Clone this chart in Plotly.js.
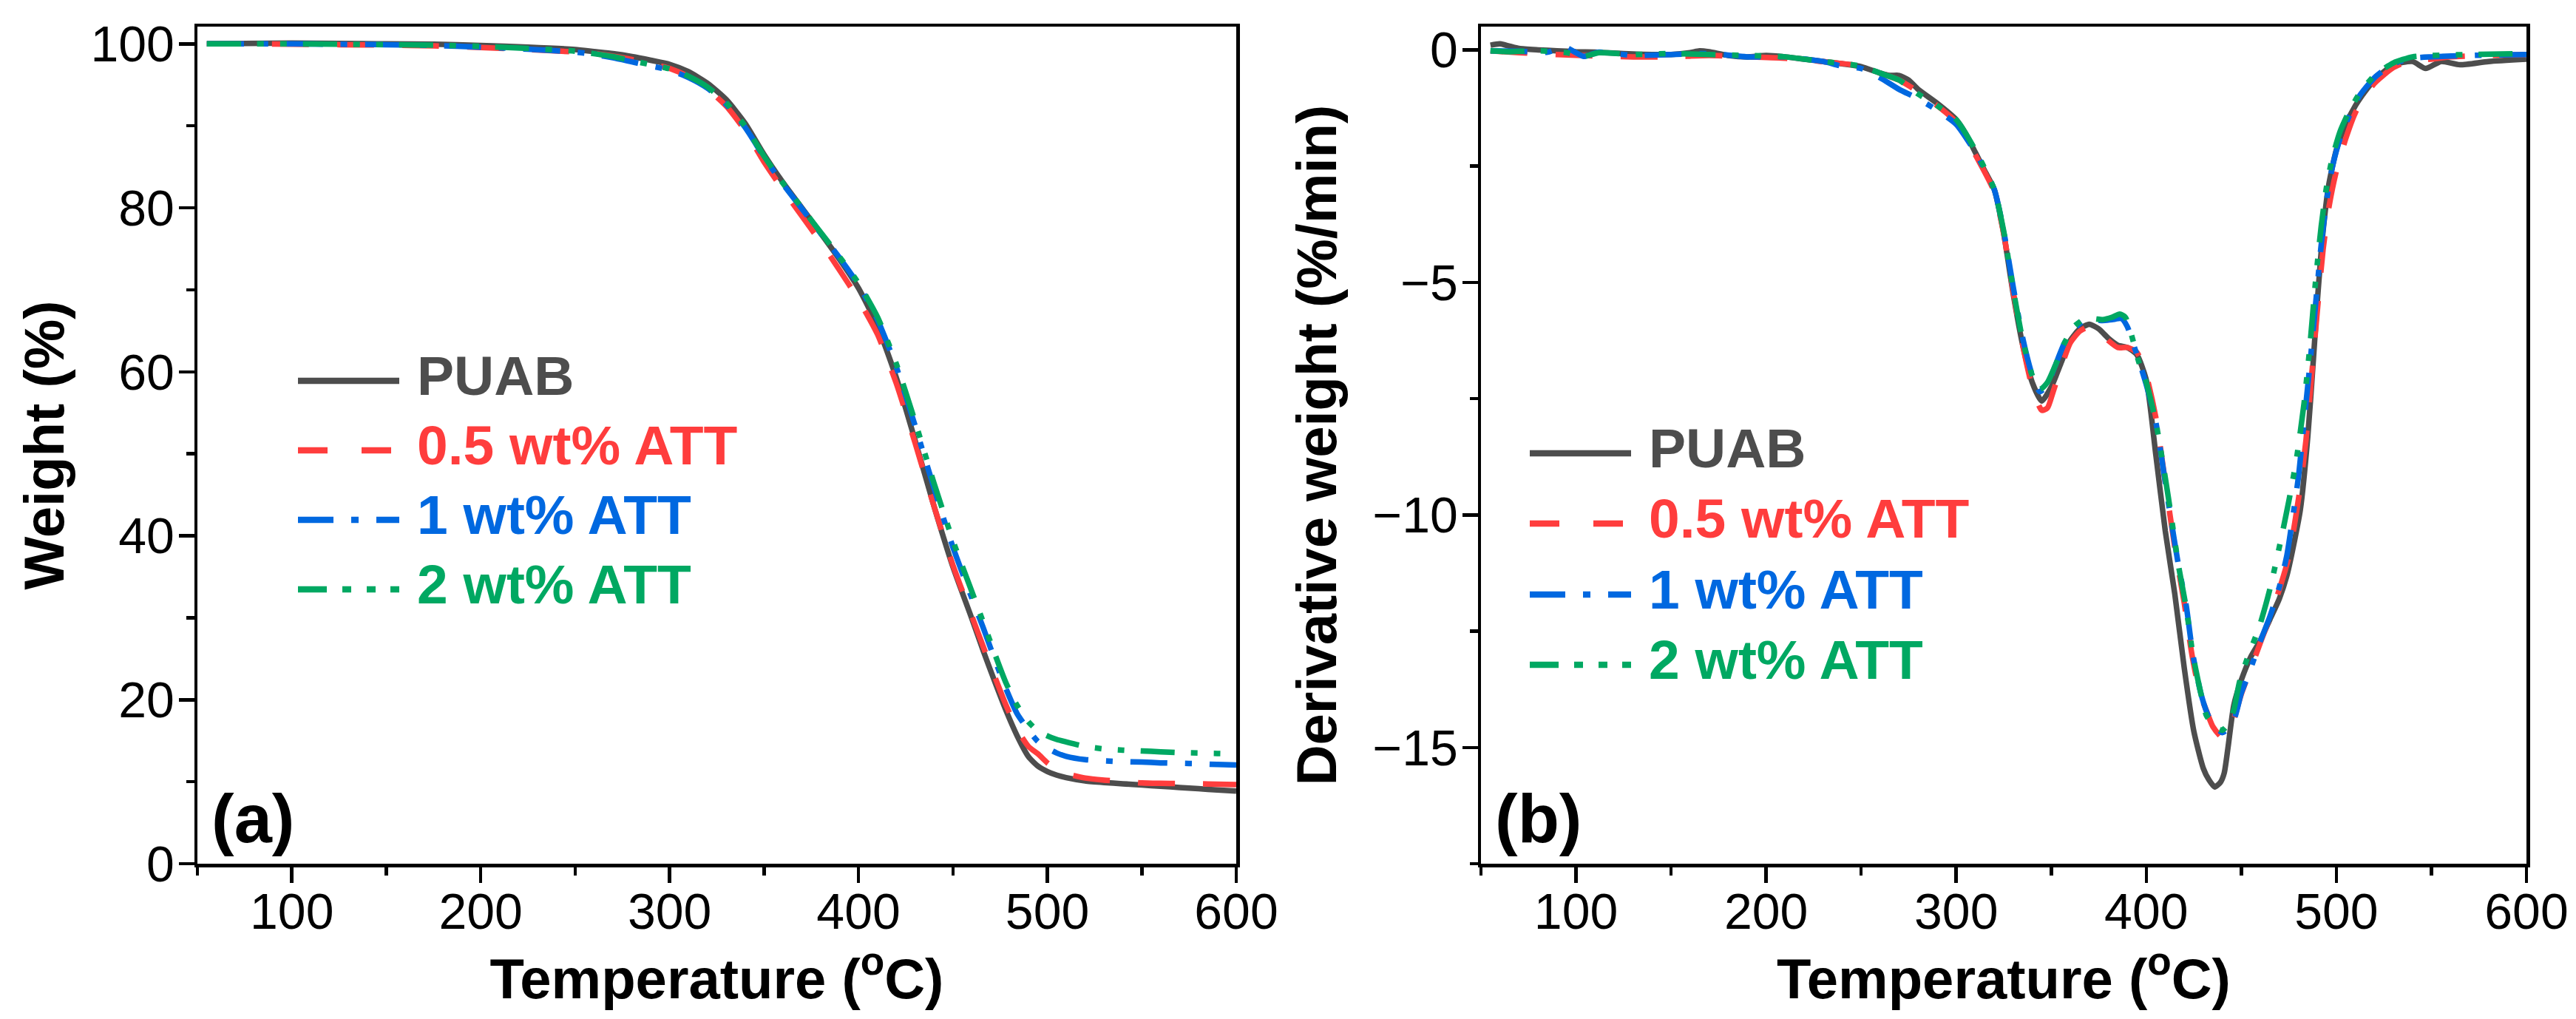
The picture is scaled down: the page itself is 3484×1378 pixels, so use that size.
<!DOCTYPE html>
<html>
<head>
<meta charset="utf-8">
<script src="https://cdn.plot.ly/plotly-3.0.1.min.js"></script>
<style>html,body{margin:0;padding:0;background:#fff;}#chart{width:3484px;height:1378px;}</style>
</head>
<body>
<div id="chart"></div>
<script>
// ---------- series names & colours ----------
const seriesNames = ["PUAB", "0.5 wt% ATT", "1 wt% ATT", "2 wt% ATT"];
const seriesColors = ["#4d4d4d", "#ff3d3d", "#0068e0", "#00a862"];

// ---------- (a) TGA: weight (%) vs temperature (°C) ----------
const tgaTemp = [55,75,100,125,150,175,200,225,250,260,270,280,290,300,310,320,330,340,350,360,370,380,390,400,410,420,430,440,450,460,466,472,478,484,490,495,500,505,510,520,530,540,550,560,570,580,590,600];
const tgaPUAB = [100.0,100.05,100.1,100.05,100.0,99.95,99.8,99.6,99.3,99.05,98.8,98.45,98.0,97.5,96.6,95.2,93.2,90.3,86.5,83.1,80.0,76.9,73.7,70.2,65.6,59.3,51.6,43.6,36.2,29.9,26.0,22.3,18.75,15.6,13.05,11.9,11.25,10.8,10.5,10.1,9.9,9.75,9.6,9.45,9.3,9.15,9.0,8.85];
const tgaATT05 = [100.0,100.0,99.95,99.9,99.85,99.75,99.55,99.3,99.0,98.8,98.5,98.1,97.6,97.0,96.0,94.5,92.4,89.4,85.6,82.2,79.0,75.8,72.4,68.8,64.6,58.6,51.3,43.6,36.4,30.2,26.5,22.9,19.4,16.4,14.3,13.4,12.3,11.5,11.0,10.45,10.2,10.05,9.85,9.8,9.78,9.75,9.7,9.65];
const tgaATT1 = [100.0,100.0,100.0,99.95,99.9,99.8,99.6,99.35,99.0,98.7,98.3,97.8,97.3,96.8,95.9,94.6,92.6,89.8,86.2,82.9,79.9,76.9,73.9,70.6,66.4,60.6,53.4,45.8,38.6,32.4,28.8,25.0,21.4,18.3,16.3,14.9,14.1,13.5,13.1,12.7,12.55,12.45,12.4,12.3,12.25,12.2,12.1,12.05];
const tgaATT2 = [100.0,100.0,100.0,99.95,99.9,99.85,99.7,99.45,99.1,98.8,98.45,97.95,97.45,96.95,96.05,94.75,92.8,89.95,86.3,83.0,80.0,77.0,74.0,70.8,66.7,61.0,53.9,46.4,39.4,33.2,29.5,25.7,22.1,19.3,17.3,16.2,15.6,15.15,14.85,14.3,14.0,13.85,13.75,13.65,13.55,13.5,13.45,13.4];

// ---------- (b) DTG: derivative weight (%/min) vs temperature (°C) ----------
const dtgTempPUAB = [55,60,65,70,80,90,100,110,120,130,140,150,160,165,170,180,190,200,210,220,230,240,250,260,265,270,275,280,290,300,305,310,315,320,325,330,335,340,345,350,355,360,365,370,375,380,385,390,395,400,405,410,415,420,425,430,433,436,439,441,443,446,450,455,460,465,470,474,478,481,485,488,490,493,496,500,505,510,515,520,530,540,547,555,565,580,600];
const dtgPUAB = [0.1,0.13,0.08,0.03,0.0,-0.02,-0.04,-0.05,-0.07,-0.09,-0.1,-0.1,-0.06,-0.02,-0.04,-0.12,-0.15,-0.12,-0.15,-0.2,-0.25,-0.3,-0.36,-0.5,-0.55,-0.55,-0.65,-0.85,-1.15,-1.5,-1.8,-2.2,-2.6,-3.0,-3.95,-5.25,-6.35,-7.15,-7.55,-7.25,-6.75,-6.25,-6.0,-5.9,-6.0,-6.2,-6.35,-6.4,-6.55,-7.1,-8.7,-10.35,-11.7,-13.3,-14.65,-15.45,-15.7,-15.85,-15.75,-15.55,-15.0,-14.1,-13.55,-13.05,-12.7,-12.25,-11.8,-11.3,-10.55,-9.9,-8.3,-6.6,-5.4,-3.9,-2.9,-2.15,-1.6,-1.2,-0.9,-0.65,-0.32,-0.25,-0.4,-0.25,-0.32,-0.25,-0.2];

const dtgTempATT05 = [55,70,90,110,130,150,170,190,210,230,250,260,270,280,290,300,310,320,325,330,335,340,345,348,351,355,360,365,370,375,380,385,390,395,400,405,410,415,420,424,428,432,435,440,443,446,450,455,460,465,470,475,478,481,484,487,490,493,496,500,505,510,515,520,530,540,550,560,580,600];
const dtgATT05 = [-0.02,-0.06,-0.1,-0.13,-0.15,-0.15,-0.12,-0.15,-0.18,-0.25,-0.35,-0.5,-0.65,-0.9,-1.2,-1.55,-2.25,-3.05,-3.95,-5.2,-6.35,-7.25,-7.75,-7.7,-7.35,-6.85,-6.3,-6.05,-5.95,-6.05,-6.25,-6.4,-6.4,-6.5,-7.0,-7.9,-9.3,-10.7,-11.9,-13.0,-13.8,-14.25,-14.55,-14.79,-14.7,-14.4,-13.85,-13.3,-12.75,-12.2,-11.6,-10.9,-10.2,-9.4,-8.4,-7.0,-5.6,-4.3,-3.4,-2.6,-1.9,-1.35,-1.0,-0.72,-0.38,-0.22,-0.2,-0.15,-0.12,-0.1];

const dtgTempATT1 = [55,70,85,94,104,112,130,150,170,190,210,230,240,250,260,270,280,290,300,310,320,325,330,335,340,344,348,352,357,362,367,372,377,382,387,390,393,397,400,405,410,413,417,421,424.5,428.5,432,435,440,443,446.5,450,454.5,459.5,465,470,474,477,480,483,486,489,492,495,498,502,507,512,520,530,540,550,570,600];
const dtgATT1 = [-0.02,-0.03,-0.05,0.06,-0.14,-0.05,-0.12,-0.1,-0.08,-0.15,-0.15,-0.25,-0.35,-0.4,-0.6,-0.85,-1.05,-1.3,-1.6,-2.2,-3.0,-3.9,-5.1,-6.2,-7.0,-7.35,-7.2,-6.8,-6.3,-6.0,-5.82,-5.8,-5.82,-5.8,-5.78,-5.95,-6.3,-6.8,-7.2,-8.0,-9.3,-10.1,-11.1,-11.95,-13.0,-13.8,-14.26,-14.5,-14.68,-14.6,-14.36,-13.83,-13.35,-12.77,-12.19,-11.55,-10.86,-10.06,-9.2,-8.0,-6.8,-5.5,-4.2,-3.2,-2.5,-1.9,-1.4,-1.0,-0.6,-0.3,-0.18,-0.15,-0.12,-0.1];

const dtgTempATT2 = [55,65,80,95,104,112,130,150,170,190,210,230,250,260,270,280,290,300,310,320,325,330,335,340,344,348,352,357,362,367,372,377,382,386,389,392,396,400,405,410,413,417,421,424.5,428.5,431.5,433,436,440,443,446,449,453,459.5,465,471,475,479,483,486,489,492,495,498,502,507,512,520,530,540,550,570,600];
const dtgATT2 = [-0.02,-0.04,-0.02,-0.06,-0.14,-0.06,-0.1,-0.08,-0.1,-0.12,-0.15,-0.25,-0.35,-0.5,-0.65,-0.95,-1.2,-1.5,-2.15,-3.0,-3.9,-5.15,-6.25,-7.0,-7.3,-7.15,-6.8,-6.3,-5.95,-5.8,-5.78,-5.8,-5.75,-5.68,-5.75,-6.1,-6.7,-7.15,-8.0,-9.2,-10.0,-11.1,-12.0,-13.0,-13.8,-14.3,-14.4,-14.55,-14.63,-14.5,-14.2,-13.6,-13.1,-12.4,-11.6,-10.5,-9.7,-8.8,-7.6,-6.4,-5.0,-3.8,-2.9,-2.3,-1.75,-1.3,-0.95,-0.55,-0.28,-0.15,-0.12,-0.1,-0.08];

// ---------- axis ticks ----------
const xRange = [50, 600];
const xTicks = [100, 200, 300, 400, 500, 600];
const yRangeA = [0, 102.1];
const yTicksA = [0, 20, 40, 60, 80, 100];
const yRangeB = [-17.5, 0.5];
const yTicksB = [-15, -10, -5, 0];

// ---------- styling ----------
const FW = 3484, FH = 1378;
const fx = p => p / FW;          // pixel -> paper x
const fy = p => 1 - p / FH;      // pixel -> paper y
const FONT = "Liberation Sans, Arial, sans-serif";
const dashes = ["solid", "50px,38px", "50px,24px,9px,24px", "46px,22px,9px,22px,9px,22px"];
const lineW = 7.5;

const tgaY = [tgaPUAB, tgaATT05, tgaATT1, tgaATT2];
const dtgX = [dtgTempPUAB, dtgTempATT05, dtgTempATT1, dtgTempATT2];
const dtgY = [dtgPUAB, dtgATT05, dtgATT1, dtgATT2];

const traces = [];
seriesNames.forEach((nm, i) => {
  traces.push({x: tgaTemp, y: tgaY[i], name: nm, type: "scatter", mode: "lines",
    xaxis: "x", yaxis: "y", showlegend: false,
    line: {color: seriesColors[i], width: lineW, dash: dashes[i], shape: "spline", smoothing: 0.6}});
});
seriesNames.forEach((nm, i) => {
  traces.push({x: dtgX[i], y: dtgY[i], name: nm, type: "scatter", mode: "lines",
    xaxis: "x2", yaxis: "y2", showlegend: false,
    line: {color: seriesColors[i], width: lineW, dash: dashes[i], shape: "spline", smoothing: 0.6}});
});

const axisBase = {
  showline: true, linecolor: "#000", linewidth: 4.5, mirror: true,
  ticks: "outside", ticklen: 21, tickwidth: 4.5, tickcolor: "#000",
  showgrid: false, zeroline: false, fixedrange: true,
  tickfont: {family: FONT, size: 68, color: "#000"},
  minor: {ticks: "outside", ticklen: 11, tickwidth: 4.5, tickcolor: "#000", showgrid: false}
};
const titleFont = {family: FONT, size: 76, color: "#000", weight: 700};

const xAxisDef = (dom, anchor) => Object.assign({}, axisBase, {
  domain: dom, anchor: anchor, range: xRange, tickmode: "array", tickvals: xTicks,
  ticklabelstandoff: -19,
  minor: Object.assign({}, axisBase.minor, {dtick: 50, tick0: 0}),
  title: {text: "Temperature (<sup>o</sup>C)", font: titleFont, standoff: 0}
});

const yDom = [fy(1168), fy(36)];

// legend rows: sample line (shape) + text (annotation)
const shapes = [], annotations = [];
const legDash = ["solid", "40px,46px", "48px,24px,10px,24px", "39px,21px,12px,21px,12px,20px,12px,100px"];
const legLen = [137, 129, 137, 139];
function addLegend(x0, xt, rows) {
  seriesNames.forEach((nm, i) => {
    shapes.push({type: "line", xref: "paper", yref: "paper",
      x0: fx(x0), x1: fx(x0 + legLen[i]), y0: fy(rows[i]), y1: fy(rows[i]),
      line: {color: seriesColors[i], width: 8.5, dash: legDash[i]}});
    annotations.push({xref: "paper", yref: "paper", x: fx(xt), y: fy(rows[i] - 7),
      xanchor: "left", yanchor: "middle", showarrow: false, text: nm,
      font: {family: FONT, size: 75, color: seriesColors[i], weight: 700}});
  });
}
addLegend(403, 562, [515, 609, 703, 797]);
addLegend(2069, 2228, [613, 708, 804, 899]);

annotations.push({xref: "paper", yref: "paper", x: fx(284), y: fy(1107), xanchor: "left", yanchor: "middle",
  showarrow: false, text: "(a)", font: {family: FONT, size: 92, color: "#000", weight: 700}});
annotations.push({xref: "paper", yref: "paper", x: fx(2020), y: fy(1107), xanchor: "left", yanchor: "middle",
  showarrow: false, text: "(b)", font: {family: FONT, size: 92, color: "#000", weight: 700}});

const layout = {
  width: FW, height: FH, margin: {l: 0, r: 0, t: 0, b: 0},
  paper_bgcolor: "#fff", plot_bgcolor: "#fff", showlegend: false,
  xaxis: xAxisDef([fx(267), fx(1672)], "y"),
  yaxis: Object.assign({}, axisBase, {domain: yDom, anchor: "x", range: yRangeA,
    tickmode: "array", tickvals: yTicksA, ticklabelstandoff: -8,
    minor: Object.assign({}, axisBase.minor, {dtick: 10, tick0: 0}),
    title: {text: "Weight (%)", font: titleFont, standoff: 12}}),
  xaxis2: xAxisDef([fx(2003), fx(3417)], "y2"),
  yaxis2: Object.assign({}, axisBase, {domain: yDom, anchor: "x2", range: yRangeB,
    tickmode: "array", tickvals: yTicksB, ticklabelstandoff: -8,
    minor: Object.assign({}, axisBase.minor, {dtick: 2.5, tick0: 0}),
    title: {text: "Derivative weight (%/min)", font: titleFont, standoff: 25}}),
  shapes: shapes, annotations: annotations
};

Plotly.newPlot("chart", traces, layout, {displayModeBar: false, staticPlot: true});
</script>
</body>
</html>
